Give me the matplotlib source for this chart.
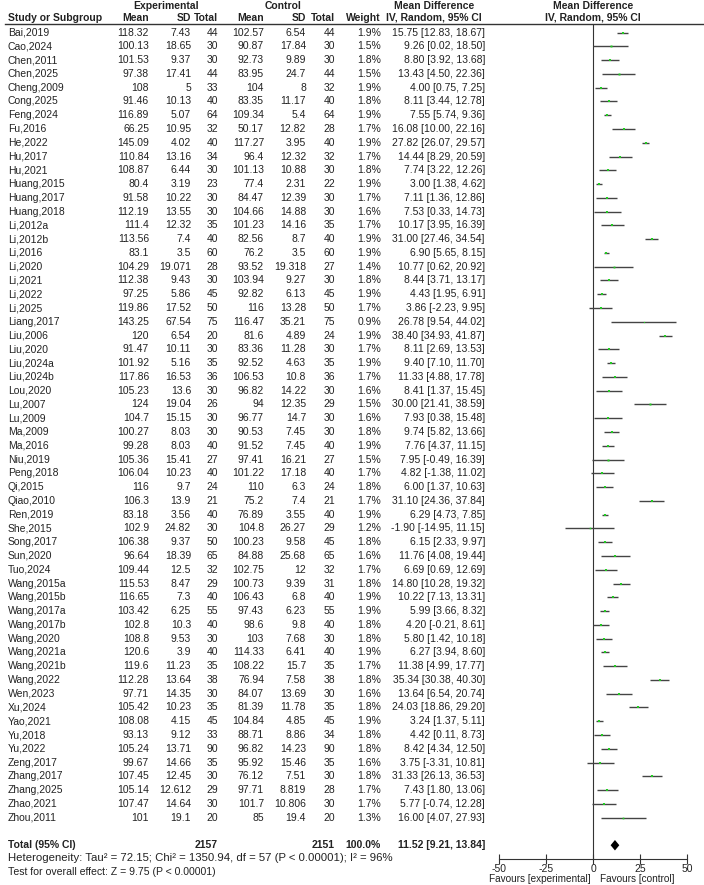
import numpy as np
import matplotlib
matplotlib.use("Agg")
import matplotlib.pyplot as plt
import matplotlib.transforms as mtrans

plt.rcParams['font.family'] = ['Liberation Sans', 'DejaVu Sans']
plt.rcParams['axes.unicode_minus'] = False

# study data
studies = ["Bai,2019", "Cao,2024", "Chen,2011", "Chen,2025", "Cheng,2009", "Cong,2025",
           "Feng,2024", "Fu,2016", "He,2022", "Hu,2017", "Hu,2021", "Huang,2015",
           "Huang,2017", "Huang,2018", "Li,2012a", "Li,2012b", "Li,2016", "Li,2020",
           "Li,2021", "Li,2022", "Li,2025", "Liang,2017", "Liu,2006", "Liu,2020",
           "Liu,2024a", "Liu,2024b", "Lou,2020", "Lu,2007", "Lu,2009", "Ma,2009",
           "Ma,2016", "Niu,2019", "Peng,2018", "Qi,2015", "Qiao,2010", "Ren,2019",
           "She,2015", "Song,2017", "Sun,2020", "Tuo,2024", "Wang,2015a", "Wang,2015b",
           "Wang,2017a", "Wang,2017b", "Wang,2020", "Wang,2021a", "Wang,2021b", "Wang,2022",
           "Wen,2023", "Xu,2024", "Yao,2021", "Yu,2018", "Yu,2022", "Zeng,2017",
           "Zhang,2017", "Zhang,2025", "Zhao,2021", "Zhou,2011"]
exp_mean = [118.32, 100.13, 101.53, 97.38, 108, 91.46, 116.89, 66.25, 145.09, 110.84,
            108.87, 80.4, 91.58, 112.19, 111.4, 113.56, 83.1, 104.29, 112.38, 97.25,
            119.86, 143.25, 120, 91.47, 101.92, 117.86, 105.23, 124, 104.7, 100.27,
            99.28, 105.36, 106.04, 116, 106.3, 83.18, 102.9, 106.38, 96.64, 109.44,
            115.53, 116.65, 103.42, 102.8, 108.8, 120.6, 119.6, 112.28, 97.71, 105.42,
            108.08, 93.13, 105.24, 99.67, 107.45, 105.14, 107.47, 101]
exp_sd = [7.43, 18.65, 9.37, 17.41, 5, 10.13, 5.07, 10.95, 4.02, 13.16,
          6.44, 3.19, 10.22, 13.55, 12.32, 7.4, 3.5, 19.071, 9.43, 5.86,
          17.52, 67.54, 6.54, 10.11, 5.16, 16.53, 13.6, 19.04, 15.15, 8.03,
          8.03, 15.41, 10.23, 9.7, 13.9, 3.56, 24.82, 9.37, 18.39, 12.5,
          8.47, 7.3, 6.25, 10.3, 9.53, 3.9, 11.23, 13.64, 14.35, 10.23,
          4.15, 9.12, 13.71, 14.66, 12.45, 12.612, 14.64, 19.1]
exp_n = [44, 30, 30, 44, 33, 40, 64, 32, 40, 34, 30, 23, 30, 30, 35, 40, 60, 28, 30, 45,
         50, 75, 20, 30, 35, 36, 30, 26, 30, 30, 40, 27, 40, 24, 21, 40, 30, 50, 65, 32,
         29, 40, 55, 40, 30, 40, 35, 38, 30, 35, 45, 33, 90, 35, 30, 29, 30, 20]
ctl_mean = [102.57, 90.87, 92.73, 83.95, 104, 83.35, 109.34, 50.17, 117.27, 96.4,
            101.13, 77.4, 84.47, 104.66, 101.23, 82.56, 76.2, 93.52, 103.94, 92.82,
            116, 116.47, 81.6, 83.36, 92.52, 106.53, 96.82, 94, 96.77, 90.53,
            91.52, 97.41, 101.22, 110, 75.2, 76.89, 104.8, 100.23, 84.88, 102.75,
            100.73, 106.43, 97.43, 98.6, 103, 114.33, 108.22, 76.94, 84.07, 81.39,
            104.84, 88.71, 96.82, 95.92, 76.12, 97.71, 101.7, 85]
ctl_sd = [6.54, 17.84, 9.89, 24.7, 8, 11.17, 5.4, 12.82, 3.95, 12.32,
          10.88, 2.31, 12.39, 14.88, 14.16, 8.7, 3.5, 19.318, 9.27, 6.13,
          13.28, 35.21, 4.89, 11.28, 4.63, 10.8, 14.22, 12.35, 14.7, 7.45,
          7.45, 16.21, 17.18, 6.3, 7.4, 3.55, 26.27, 9.58, 25.68, 12,
          9.39, 6.8, 6.23, 9.8, 7.68, 6.41, 15.7, 7.58, 13.69, 11.78,
          4.85, 8.86, 14.23, 15.46, 7.51, 8.819, 10.806, 19.4]
ctl_n = [44, 30, 30, 44, 32, 40, 64, 28, 40, 32, 30, 22, 30, 30, 35, 40, 60, 27, 30, 45,
         50, 75, 24, 30, 35, 36, 30, 29, 30, 30, 40, 27, 40, 24, 21, 40, 29, 45, 65, 32,
         31, 40, 55, 40, 30, 40, 35, 38, 30, 35, 45, 34, 90, 35, 30, 28, 30, 20]
weight = [1.9, 1.5, 1.8, 1.5, 1.9, 1.8, 1.9, 1.7, 1.9, 1.7, 1.8, 1.9, 1.7, 1.6, 1.7, 1.9,
          1.9, 1.4, 1.8, 1.9, 1.7, 0.9, 1.9, 1.7, 1.9, 1.7, 1.6, 1.5, 1.6, 1.8, 1.9, 1.5,
          1.7, 1.8, 1.7, 1.9, 1.2, 1.8, 1.6, 1.7, 1.8, 1.9, 1.9, 1.8, 1.8, 1.9, 1.7, 1.8,
          1.6, 1.8, 1.9, 1.8, 1.8, 1.6, 1.8, 1.7, 1.7, 1.3]
md = [15.75, 9.26, 8.80, 13.43, 4.00, 8.11, 7.55, 16.08, 27.82, 14.44, 7.74, 3.00, 7.11,
      7.53, 10.17, 31.00, 6.90, 10.77, 8.44, 4.43, 3.86, 26.78, 38.40, 8.11, 9.40, 11.33,
      8.41, 30.00, 7.93, 9.74, 7.76, 7.95, 4.82, 6.00, 31.10, 6.29, -1.90, 6.15, 11.76,
      6.69, 14.80, 10.22, 5.99, 4.20, 5.80, 6.27, 11.38, 35.34, 13.64, 24.03, 3.24, 4.42,
      8.42, 3.75, 31.33, 7.43, 5.77, 16.00]
ci_lo = [12.83, 0.02, 3.92, 4.50, 0.75, 3.44, 5.74, 10.00, 26.07, 8.29, 3.22, 1.38, 1.36,
         0.33, 3.95, 27.46, 5.65, 0.62, 3.71, 1.95, -2.23, 9.54, 34.93, 2.69, 7.10, 4.88,
         1.37, 21.41, 0.38, 5.82, 4.37, -0.49, -1.38, 1.37, 24.36, 4.73, -14.95, 2.33, 4.08,
         0.69, 10.28, 7.13, 3.66, -0.21, 1.42, 3.94, 4.99, 30.38, 6.54, 18.86, 1.37, 0.11,
         4.34, -3.31, 26.13, 1.80, -0.74, 4.07]
ci_hi = [18.67, 18.50, 13.68, 22.36, 7.25, 12.78, 9.36, 22.16, 29.57, 20.59, 12.26, 4.62,
         12.86, 14.73, 16.39, 34.54, 8.15, 20.92, 13.17, 6.91, 9.95, 44.02, 41.87, 13.53,
         11.70, 17.78, 15.45, 38.59, 15.48, 13.66, 11.15, 16.39, 11.02, 10.63, 37.84, 7.85,
         11.15, 9.97, 19.44, 12.69, 19.32, 13.31, 8.32, 8.61, 10.18, 8.60, 17.77, 40.30,
         20.74, 29.20, 5.11, 8.73, 12.50, 10.81, 36.53, 13.06, 12.28, 27.93]

total_exp, total_ctl = 2157, 2151
total_md, total_lo, total_hi = 11.52, 9.21, 13.84
het_text = "Heterogeneity: Tau\u00b2 = 72.15; Chi\u00b2 = 1350.94, df = 57 (P < 0.00001); I\u00b2 = 96%"
test_text = "Test for overall effect: Z = 9.75 (P < 0.00001)"
xticks = [-50, -25, 0, 25, 50]

W, H = 704, 885
fig = plt.figure(figsize=(W / 100, H / 100), dpi=100)
ax = fig.add_axes([499.3 / W, 26 / H, 188 / W, 835 / H])

n = len(studies)
rows = np.arange(n)
total_row = n + 1

ax.set_xlim(-50, 50)
ax.set_ylim(60, -0.62)
for s in ["top", "left", "right"]:
    ax.spines[s].set_visible(False)
ax.spines["bottom"].set_color("#333333")
ax.spines["bottom"].set_linewidth(0.8)
ax.set_yticks([])
ax.set_xticks(xticks)
ax.tick_params(axis="x", direction="inout", length=7, width=0.8, color="#333333",
               labelsize=7.5, pad=0, labelcolor="#222222")
ax.set_facecolor("none")

# zero line
ax.axvline(0, color="#333333", lw=0.8)

# confidence intervals and point estimates
ax.hlines(rows, ci_lo, ci_hi, color="#444444", lw=1.0)
for i in rows:
    ax.plot(md[i], i, marker="s", color="#22cc22", markersize=weight[i] * 0.95,
            markeredgewidth=0, linestyle="none")

# pooled diamond
dh = 0.38
ax.fill([total_lo, total_md, total_hi, total_md],
        [total_row, total_row - dh, total_row, total_row + dh], color="black", lw=0)

# table text
tr = mtrans.blended_transform_factory(fig.transFigure, ax.transData)
def px(x):
    return x / W

fs = 7.5
txt = dict(transform=tr, fontsize=fs, color="#222222", va="center")
bold = dict(transform=tr, fontsize=fs, color="#222222", va="center", fontweight="bold",
            family=["Liberation Sans Narrow", "Liberation Sans"])

col_r = [149, 191, 218, 264, 306, 335, 381]
for i in rows:
    ax.text(px(8), i, studies[i], ha="left", **txt)
    vals = [f"{exp_mean[i]:g}", f"{exp_sd[i]:g}", f"{exp_n[i]}",
            f"{ctl_mean[i]:g}", f"{ctl_sd[i]:g}", f"{ctl_n[i]}", f"{weight[i]:.1f}%"]
    for x, v in zip(col_r, vals):
        ax.text(px(x), i, v, ha="right", **txt)
    ax.text(px(485), i, f"{md[i]:.2f} [{ci_lo[i]:.2f}, {ci_hi[i]:.2f}]", ha="right", **txt)

# headers
h1, h2 = -1.95, -1.08
ax.text(px(166), h1, "Experimental", ha="center", **bold)
ax.text(px(283), h1, "Control", ha="center", **bold)
ax.text(px(434), h1, "Mean Difference", ha="center", **bold)
ax.text(px(593), h1, "Mean Difference", ha="center", **bold)
ax.text(px(8), h2, "Study or Subgroup", ha="left", **bold)
for x, lab in zip(col_r, ["Mean", "SD", "Total", "Mean", "SD", "Total", "Weight"]):
    ax.text(px(x), h2, lab, ha="right", **bold)
ax.text(px(434), h2, "IV, Random, 95% CI", ha="center", **bold)
ax.text(px(593), h2, "IV, Random, 95% CI", ha="center", **bold)
ax.axhline(-0.62, xmin=(5 - 499.3) / 188, xmax=(704 - 499.3) / 188, clip_on=False,
           color="#333333", lw=1.0)

# total row
ax.text(px(8), total_row, "Total (95% CI)", ha="left", **bold)
ax.text(px(218), total_row, f"{total_exp}", ha="right", **bold)
ax.text(px(335), total_row, f"{total_ctl}", ha="right", **bold)
ax.text(px(381), total_row, "100.0%", ha="right", **bold)
ax.text(px(485), total_row, f"{total_md:.2f} [{total_lo:.2f}, {total_hi:.2f}]", ha="right", **bold)

narrow = dict(transform=tr, color="#222222", va="center",
              family=["Liberation Sans Narrow", "Liberation Sans"])
ax.text(px(8), 59.95, het_text, ha="left", fontsize=8.2, **narrow)
ax.text(px(8), 60.95, test_text, ha="left", fontsize=7.6, **narrow)

ax.text(px(591), 61.45, "Favours [experimental]", ha="right", fontsize=7.2, **narrow)
ax.text(px(600), 61.45, "Favours [control]", ha="left", fontsize=7.2, **narrow)

fig.savefig("out.png", dpi=100, facecolor="white")
